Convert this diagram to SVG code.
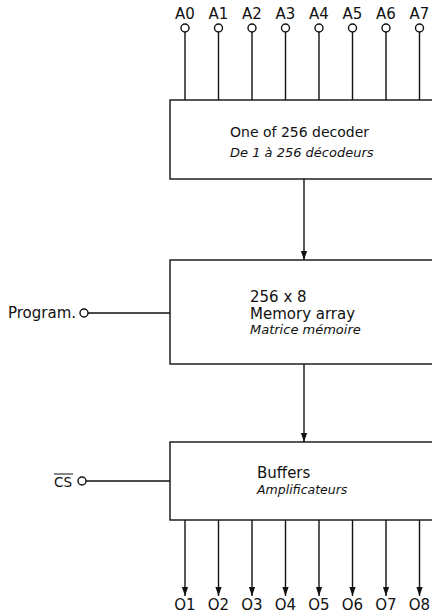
<svg xmlns="http://www.w3.org/2000/svg" width="432" height="614" viewBox="0 0 432 614">
<style>
.ln{stroke:#111;stroke-width:1.4;fill:none}
.bx{stroke:#111;stroke-width:1.4;fill:#fff}
.pin{stroke:#111;stroke-width:1.4;fill:#fff}
.t{font-family:"DejaVu Sans","Liberation Sans",Arial,sans-serif;font-size:15px;fill:#111}
.i{font-family:"DejaVu Sans","Liberation Sans",Arial,sans-serif;font-size:13px;font-style:italic;fill:#111}
.lb{font-family:"DejaVu Sans","Liberation Sans",Arial,sans-serif;font-size:15px;fill:#111;text-anchor:middle}
</style>
<defs>
<marker id="arr" markerWidth="9" markerHeight="13" refX="13" refY="4.5" orient="auto" markerUnits="userSpaceOnUse" viewBox="0 0 13 9">
<path d="M0,0 L13,4.5 L0,9 Z" fill="#111"/>
</marker>
</defs>
<g id="connectors">
<g id="inputs">
<line class="ln" x1="185" y1="32" x2="185" y2="100"/>
<line class="ln" x1="218.5" y1="32" x2="218.5" y2="100"/>
<line class="ln" x1="252" y1="32" x2="252" y2="100"/>
<line class="ln" x1="285.5" y1="32" x2="285.5" y2="100"/>
<line class="ln" x1="319" y1="32" x2="319" y2="100"/>
<line class="ln" x1="352.5" y1="32" x2="352.5" y2="100"/>
<line class="ln" x1="386" y1="32" x2="386" y2="100"/>
<line class="ln" x1="419.5" y1="32" x2="419.5" y2="100"/>
</g>
<line class="ln" x1="304" y1="179" x2="304" y2="260" marker-end="url(#arr)"/>
<line class="ln" x1="304" y1="364" x2="304" y2="442" marker-end="url(#arr)"/>
<line class="ln" x1="88" y1="313" x2="170" y2="313"/>
<line class="ln" x1="86" y1="481" x2="170" y2="481"/>
<g id="outputs">
<line class="ln" x1="185" y1="520" x2="185" y2="596" marker-end="url(#arr)"/>
<line class="ln" x1="218.5" y1="520" x2="218.5" y2="596" marker-end="url(#arr)"/>
<line class="ln" x1="252" y1="520" x2="252" y2="596" marker-end="url(#arr)"/>
<line class="ln" x1="285.5" y1="520" x2="285.5" y2="596" marker-end="url(#arr)"/>
<line class="ln" x1="319" y1="520" x2="319" y2="596" marker-end="url(#arr)"/>
<line class="ln" x1="352.5" y1="520" x2="352.5" y2="596" marker-end="url(#arr)"/>
<line class="ln" x1="386" y1="520" x2="386" y2="596" marker-end="url(#arr)"/>
<line class="ln" x1="419.5" y1="520" x2="419.5" y2="596" marker-end="url(#arr)"/>
</g>
</g>
<g id="address-pins">
<circle class="pin" cx="185" cy="28" r="4"/>
<circle class="pin" cx="218.5" cy="28" r="4"/>
<circle class="pin" cx="252" cy="28" r="4"/>
<circle class="pin" cx="285.5" cy="28" r="4"/>
<circle class="pin" cx="319" cy="28" r="4"/>
<circle class="pin" cx="352.5" cy="28" r="4"/>
<circle class="pin" cx="386" cy="28" r="4"/>
<circle class="pin" cx="419.5" cy="28" r="4"/>
<text class="lb" x="185" y="19">A0</text>
<text class="lb" x="218.5" y="19">A1</text>
<text class="lb" x="252" y="19">A2</text>
<text class="lb" x="285.5" y="19">A3</text>
<text class="lb" x="319" y="19">A4</text>
<text class="lb" x="352.5" y="19">A5</text>
<text class="lb" x="386" y="19">A6</text>
<text class="lb" x="419.5" y="19">A7</text>
</g>
<g id="decoder">
<rect class="bx" x="170" y="100" width="270" height="79"/>
<text class="t" x="230" y="137" style="font-size:14px">One of 256 decoder</text>
<text class="i" x="230" y="157">De 1 à 256 décodeurs</text>
</g>
<g id="memory">
<rect class="bx" x="170" y="260" width="270" height="104"/>
<text class="t" x="250" y="302">256 x 8</text>
<text class="t" x="250" y="319">Memory array</text>
<text class="i" x="250" y="334">Matrice mémoire</text>
</g>
<g id="program">
<text class="t" x="8" y="318">Program.</text>
<circle class="pin" cx="84" cy="313" r="4"/>
</g>
<g id="buffers">
<rect class="bx" x="170" y="442" width="270" height="78"/>
<text class="t" x="257" y="478">Buffers</text>
<text class="i" x="257" y="494" style="font-size:12.5px">Amplificateurs</text>
</g>
<g id="cs">
<text class="t" x="54" y="487" style="font-size:13.5px">CS</text>
<line class="ln" x1="54" y1="474" x2="73" y2="474" style="stroke-width:1"/>
<circle class="pin" cx="82" cy="481" r="4"/>
</g>
<g id="output-labels">
<text class="lb" x="185" y="610">O1</text>
<text class="lb" x="218.5" y="610">O2</text>
<text class="lb" x="252" y="610">O3</text>
<text class="lb" x="285.5" y="610">O4</text>
<text class="lb" x="319" y="610">O5</text>
<text class="lb" x="352.5" y="610">O6</text>
<text class="lb" x="386" y="610">O7</text>
<text class="lb" x="419.5" y="610">O8</text>
</g>
</svg>
